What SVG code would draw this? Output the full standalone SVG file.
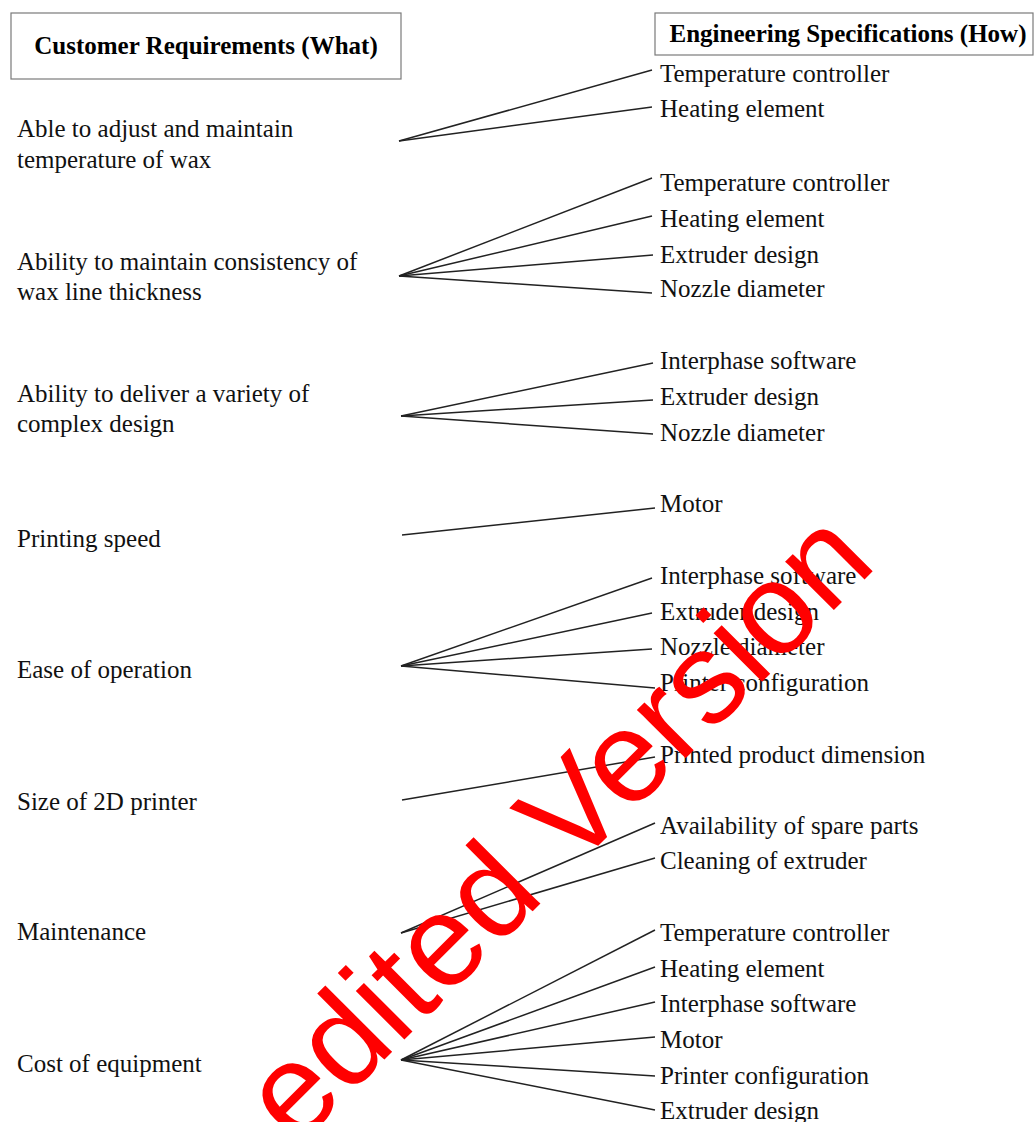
<svg xmlns="http://www.w3.org/2000/svg" width="1035" height="1122" viewBox="0 0 1035 1122">
<style>
.t{font-family:"Liberation Serif","Times New Roman",serif;font-size:25px;fill:#111}
.h{font-family:"Liberation Serif","Times New Roman",serif;font-size:25px;font-weight:bold;fill:#000}
.box{fill:#fff;stroke:#7a7a7a;stroke-width:1.2}
.c line{stroke:#222;stroke-width:1.5}
.wm{font-family:"Liberation Sans",Arial,sans-serif;font-size:130px;fill:#ff0000}
</style>
<rect width="1035" height="1122" fill="#fff"/>
<g id="hdr-what"><rect class="box" x="11" y="13" width="390" height="66"/><text class="h" x="206" y="54" text-anchor="middle">Customer Requirements (What)</text></g>
<g id="hdr-how"><rect class="box" x="655" y="13" width="378" height="42"/><text class="h" x="848" y="42" text-anchor="middle">Engineering Specifications (How)</text></g>
<g id="connectors" class="c">
<line x1="399" y1="141" x2="652" y2="70"/>
<line x1="399" y1="141" x2="652" y2="107"/>
<line x1="399" y1="276" x2="652" y2="178"/>
<line x1="399" y1="276" x2="652" y2="216"/>
<line x1="399" y1="276" x2="653" y2="255"/>
<line x1="399" y1="276" x2="652" y2="293"/>
<line x1="401" y1="416" x2="653" y2="363"/>
<line x1="401" y1="416" x2="653" y2="400"/>
<line x1="401" y1="416" x2="653" y2="434"/>
<line x1="402" y1="535" x2="655" y2="508"/>
<line x1="401" y1="666" x2="652" y2="578"/>
<line x1="401" y1="666" x2="652" y2="613"/>
<line x1="401" y1="666" x2="652" y2="649"/>
<line x1="401" y1="666" x2="655" y2="688"/>
<line x1="402" y1="800" x2="655" y2="757"/>
<line x1="401" y1="933" x2="655" y2="823"/>
<line x1="401" y1="933" x2="655" y2="858"/>
<line x1="401" y1="1060" x2="655" y2="930"/>
<line x1="401" y1="1060" x2="655" y2="967"/>
<line x1="401" y1="1060" x2="655" y2="1002"/>
<line x1="401" y1="1060" x2="655" y2="1037"/>
<line x1="401" y1="1060" x2="655" y2="1076"/>
<line x1="401" y1="1060" x2="655" y2="1110"/>
</g>
<g id="cr1"><text class="t" x="17" y="137">Able to adjust and maintain</text><text class="t" x="17" y="168">temperature of wax</text></g>
<g id="cr2"><text class="t" x="17" y="270">Ability to maintain consistency of</text><text class="t" x="17" y="300">wax line thickness</text></g>
<g id="cr3"><text class="t" x="17" y="402">Ability to deliver a variety of</text><text class="t" x="17" y="432">complex design</text></g>
<g id="cr4"><text class="t" x="17" y="547">Printing speed</text></g>
<g id="cr5"><text class="t" x="17" y="678">Ease of operation</text></g>
<g id="cr6"><text class="t" x="17" y="810">Size of 2D printer</text></g>
<g id="cr7"><text class="t" x="17" y="940">Maintenance</text></g>
<g id="cr8"><text class="t" x="17" y="1072">Cost of equipment</text></g>
<g id="es1"><text class="t" x="660" y="82">Temperature controller</text><text class="t" x="660" y="117">Heating element</text></g>
<g id="es2"><text class="t" x="660" y="191">Temperature controller</text><text class="t" x="660" y="227">Heating element</text><text class="t" x="660" y="263">Extruder design</text><text class="t" x="660" y="297">Nozzle diameter</text></g>
<g id="es3"><text class="t" x="660" y="369">Interphase software</text><text class="t" x="660" y="405">Extruder design</text><text class="t" x="660" y="441">Nozzle diameter</text></g>
<g id="es4"><text class="t" x="660" y="512">Motor</text></g>
<g id="es5"><text class="t" x="660" y="584">Interphase software</text><text class="t" x="660" y="620">Extruder design</text><text class="t" x="660" y="655">Nozzle diameter</text><text class="t" x="660" y="691">Printer configuration</text></g>
<g id="es6"><text class="t" x="660" y="763">Printed product dimension</text></g>
<g id="es7"><text class="t" x="660" y="834">Availability of spare parts</text><text class="t" x="660" y="869">Cleaning of extruder</text></g>
<g id="es8"><text class="t" x="660" y="941">Temperature controller</text><text class="t" x="660" y="977">Heating element</text><text class="t" x="660" y="1012">Interphase software</text><text class="t" x="660" y="1048">Motor</text><text class="t" x="660" y="1084">Printer configuration</text><text class="t" x="660" y="1119">Extruder design</text></g>
<text class="wm" transform="translate(296,1148) rotate(-45)">edited Version</text>
</svg>
